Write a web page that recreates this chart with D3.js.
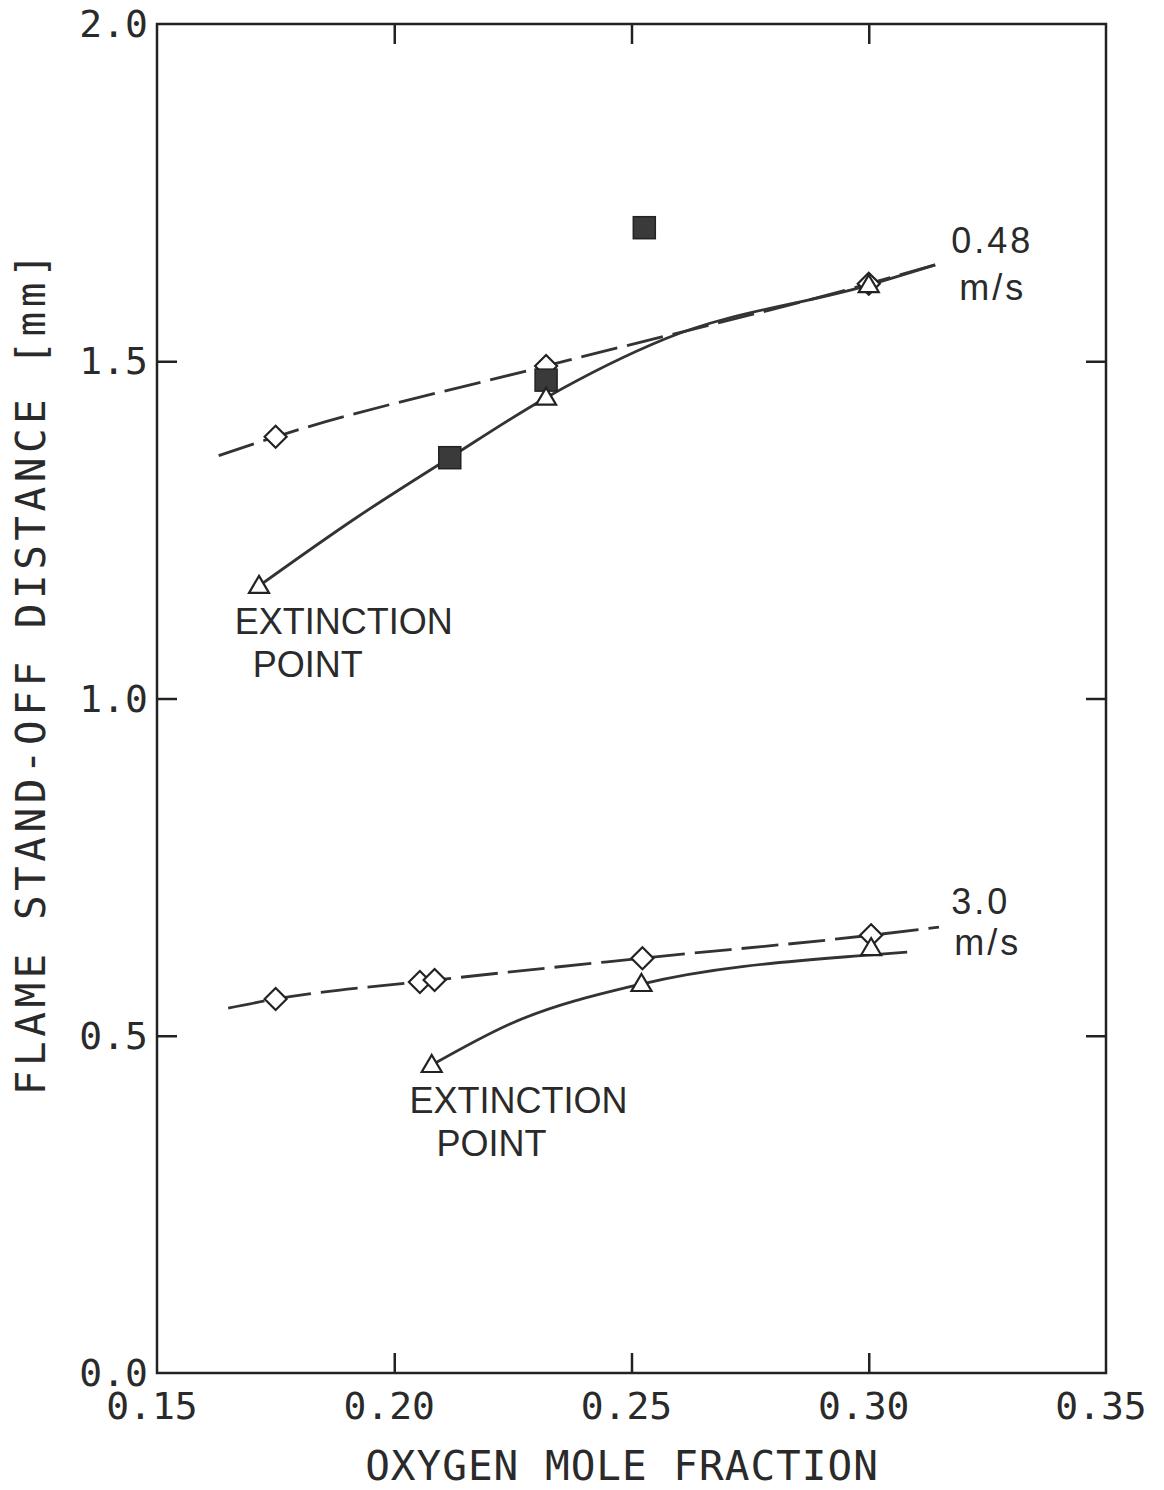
<!DOCTYPE html>
<html lang="en">
<head>
    <meta charset="UTF-8">
    <title>Flame stand-off distance</title>
    <script src="https://cdn.jsdelivr.net/npm/d3@7"></script>
    <style>
        body { margin: 0; background: #fff; }
        .frame { fill: none; stroke: #222; stroke-width: 2.5; }
        .tick line { stroke: #222; stroke-width: 2.5; }
        .curve { fill: none; stroke: #333; stroke-width: 2.8; }
        .mono { font-family: "DejaVu Sans Mono", monospace; fill: #2a2a2a; }
        .note { font-family: "Liberation Sans", Arial, sans-serif; fill: #2a2a2a; }
    </style>
</head>
<body>
<script>
    // ticks
    const xTicks = [0.15, 0.20, 0.25, 0.30, 0.35];
    const yTicks = [0.0, 0.5, 1.0, 1.5, 2.0];

    // 0.48 m/s series
    const diamondsSlow = [[0.175, 1.388], [0.232, 1.493], [0.300, 1.615]];
    const dashSlow = [[0.163, 1.360], [0.175, 1.388], [0.232, 1.493], [0.300, 1.615], [0.314, 1.643]];
    const trianglesSlow = [[0.1715, 1.167], [0.232, 1.446], [0.300, 1.613]];
    const solidSlow = [[0.1715, 1.167], [0.1920, 1.268], [0.2117, 1.357], [0.232, 1.446], [0.2574, 1.534], [0.300, 1.613], [0.314, 1.643]];
    const squaresSlow = [[0.2117, 1.357], [0.232, 1.472], [0.2527, 1.698]];

    // 3.0 m/s series
    const diamondsFast = [[0.175, 0.5545], [0.2054, 0.5797], [0.2085, 0.5827], [0.2523, 0.615], [0.3005, 0.649]];
    const dashFast = [[0.165, 0.541], [0.175, 0.5545], [0.2070, 0.5812], [0.2523, 0.615], [0.3005, 0.649], [0.3148, 0.661]];
    const trianglesFast = [[0.2079, 0.4566], [0.2521, 0.5767], [0.3005, 0.630]];
    const solidFast = [[0.2079, 0.4566], [0.2249, 0.519], [0.2521, 0.5767], [0.3005, 0.620], [0.3081, 0.624]];

    const notes = [
        {x: 0.3174, y: 1.660, lines: ["0.48", "m/s"], dx: [0, 8], dy: 47, ls: 3},
        {x: 0.3174, y: 0.681, lines: ["3.0", "m/s"], dx: [0, 3], dy: 41, ls: 3},
        {x: 0.1664, y: 1.095, lines: ["EXTINCTION", "POINT"], dx: [0, 18], dy: 43, ls: 0},
        {x: 0.2032, y: 0.386, lines: ["EXTINCTION", "POINT"], dx: [0, 27], dy: 43, ls: 0}
    ];

    const W = 1164, H = 1490;
    const m = {left: 157, right: 58, top: 24, bottom: 117};

    const svg = d3.select("body").append("svg")
        .attr("width", W)
        .attr("height", H);

    const x = d3.scaleLinear().domain([0.15, 0.35]).range([m.left, W - m.right]);
    const y = d3.scaleLinear().domain([0, 2]).range([H - m.bottom, m.top]);

    // frame and ticks
    svg.append("rect").attr("class", "frame")
        .attr("x", x(0.15)).attr("y", y(2))
        .attr("width", x(0.35) - x(0.15)).attr("height", y(0) - y(2));

    const tk = 20;
    const fmt = d3.format(".2f");
    svg.append("g").attr("transform", `translate(0,${y(0)})`)
        .call(d3.axisBottom(x).tickValues(xTicks.slice(1, -1)).tickSize(-tk).tickFormat(""))
        .call(g => g.select(".domain").remove());
    svg.append("g").attr("transform", `translate(0,${y(2)})`)
        .call(d3.axisTop(x).tickValues(xTicks.slice(1, -1)).tickSize(-tk).tickFormat(""))
        .call(g => g.select(".domain").remove());
    svg.append("g").attr("transform", `translate(${x(0.15)},0)`)
        .call(d3.axisLeft(y).tickValues(yTicks.slice(1, -1)).tickSize(-tk).tickFormat(""))
        .call(g => g.select(".domain").remove());
    svg.append("g").attr("transform", `translate(${x(0.35)},0)`)
        .call(d3.axisRight(y).tickValues(yTicks.slice(1, -1)).tickSize(-tk).tickFormat(""))
        .call(g => g.select(".domain").remove());

    // tick labels
    svg.selectAll(".xlab").data(xTicks).join("text")
        .attr("class", "mono")
        .attr("x", d => x(d) - 5)
        .attr("y", y(0) + 46)
        .attr("text-anchor", "middle")
        .style("font-size", "38px")
        .text(d => fmt(d));
    svg.selectAll(".ylab").data(yTicks).join("text")
        .attr("class", "mono")
        .attr("x", x(0.15) - 9)
        .attr("y", d => y(d) + 13)
        .attr("text-anchor", "end")
        .style("font-size", "38px")
        .text(d => d.toFixed(1));

    // axis titles
    svg.append("text").attr("class", "mono")
        .attr("x", 622).attr("y", 1480)
        .attr("text-anchor", "middle")
        .style("font-size", "41px")
        .style("letter-spacing", "1px")
        .text("OXYGEN MOLE FRACTION");
    svg.append("text").attr("class", "mono")
        .attr("transform", `translate(45,672) rotate(-90)`)
        .attr("text-anchor", "middle")
        .style("font-size", "41px")
        .style("letter-spacing", "4.5px")
        .text("FLAME STAND-OFF DISTANCE [mm]");

    // curves
    const line = d3.line().x(d => x(d[0])).y(d => y(d[1])).curve(d3.curveMonotoneX);
    [[dashSlow, true], [solidSlow, false], [dashFast, true], [solidFast, false]].forEach(([pts, dashed]) => {
        svg.append("path").attr("class", "curve")
            .attr("d", line(pts))
            .attr("stroke-dasharray", dashed ? "37,10" : null);
    });

    // markers
    const diamond = (cx, cy) => `M${cx},${cy - 11}L${cx + 11},${cy}L${cx},${cy + 11}L${cx - 11},${cy}Z`;
    const triangle = (cx, cy) => `M${cx},${cy - 10}L${cx + 10},${cy + 7}L${cx - 10},${cy + 7}Z`;

    svg.selectAll(".dia").data(diamondsSlow.concat(diamondsFast)).join("path")
        .attr("d", d => diamond(x(d[0]), y(d[1])))
        .attr("fill", "#fff").attr("stroke", "#222").attr("stroke-width", 2.2);

    svg.selectAll(".sq").data(squaresSlow).join("rect")
        .attr("x", d => x(d[0]) - 11).attr("y", d => y(d[1]) - 11)
        .attr("width", 22).attr("height", 22)
        .attr("fill", "#3a3a3a").attr("stroke", "#222").attr("stroke-width", 1.5);

    svg.selectAll(".tri").data(trianglesSlow.concat(trianglesFast)).join("path")
        .attr("d", d => triangle(x(d[0]), y(d[1])))
        .attr("fill", "#fff").attr("stroke", "#222").attr("stroke-width", 2.2);

    // annotations
    notes.forEach(n => {
        const t = svg.append("text").attr("class", "note")
            .attr("x", x(n.x)).attr("y", y(n.y))
            .style("font-size", "36px")
            .style("letter-spacing", n.ls + "px");
        n.lines.forEach((s, i) => {
            t.append("tspan")
                .attr("x", x(n.x) + n.dx[i])
                .attr("dy", i === 0 ? 0 : n.dy)
                .text(s);
        });
    });
</script>
</body>
</html>
